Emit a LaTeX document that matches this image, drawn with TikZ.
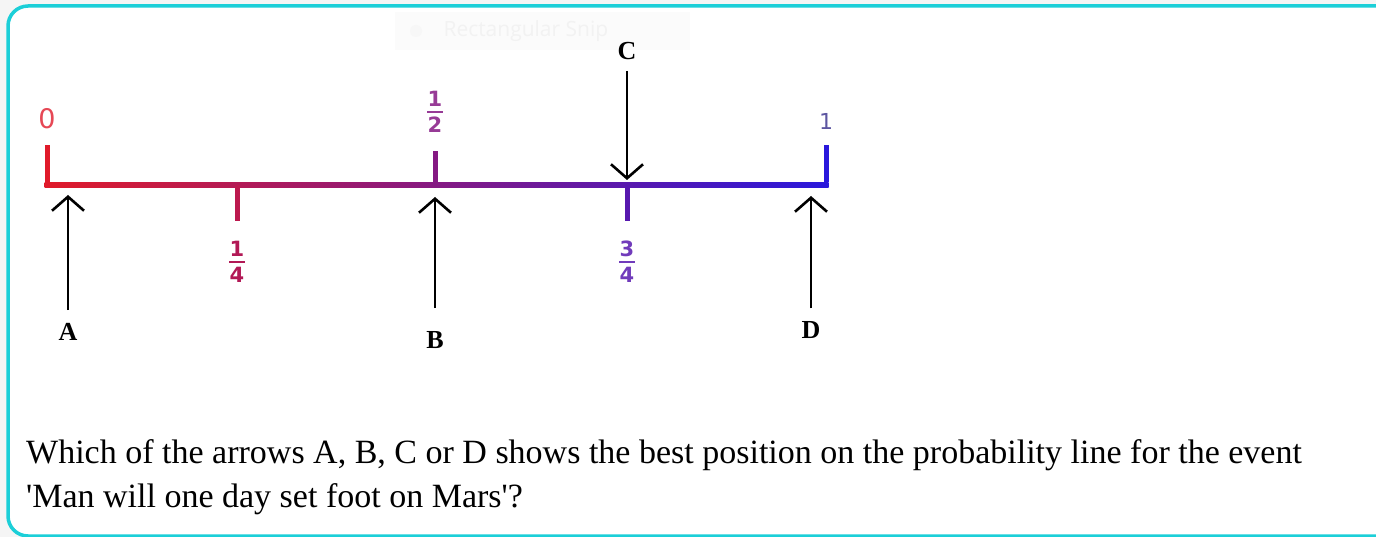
\documentclass[tikz,border=0pt]{standalone}
\usepackage{fontspec}
\setmainfont{Liberation Serif}
\setsansfont{DejaVu Sans}
\newfontfamily\qfont{Liberation Serif}
\usepackage{tikz}
\usetikzlibrary{positioning,arrows.meta}

\definecolor{frame}{HTML}{1CCFD8}
\definecolor{lred}{HTML}{E01A2A}
\definecolor{lblue}{HTML}{2A18DC}
\newcommand{\frc}[2]{\shortstack{#1\\[1pt]\rule{16pt}{2.2pt}\\[1pt]#2}}

\begin{document}
\begin{tikzpicture}[x=1pt,y=-1pt,
    tick/.style={line width=5pt},
    frac/.style={font=\sffamily\bfseries\fontsize{21}{21}\selectfont,inner sep=0pt},
    letter/.style={font=\bfseries\fontsize{26}{26}\selectfont,inner sep=1pt},
    arr/.style={-{Straight Barb[length=14pt,width=32pt,line width=2.6pt]},line width=2.6pt}
  ]
    \useasboundingbox (0,0) rectangle (1376,537);
    \fill[black!4] (0,0) rectangle (1376,537);
    \draw[frame,line width=3.5pt,rounded corners=20pt,fill=white] (8,6) rectangle (1420,536);

    % faint snipping tool label
    \fill[black!1.5] (395,12) rectangle (690,50);
    \fill[black!3] (416,31) circle (6pt);
    \node[anchor=west,text=black!5,font=\fontspec{Open Sans}\fontsize{21}{21}\selectfont] (snip) at (440,31) {Rectangular Snip};

    % the probability line
    \coordinate (p0) at (47,185);
    \coordinate (p1) at (237,185);
    \coordinate (p2) at (435,185);
    \coordinate (p3) at (627,185);
    \coordinate (p4) at (826,185);
    \shade[left color=lred,right color=lblue] (44.5,182.5) rectangle (828.5,187.5);
    \draw[tick,lred] ([yshift=2.5pt]p0) -- ++(0,-37);
    \draw[tick,lblue] ([yshift=2.5pt]p4) -- ++(0,-37);
    \draw[tick,lred!80!lblue] (p1) -- ++(0,36);
    \draw[tick,lred!50!lblue] (p2) -- ++(0,-34);
    \draw[tick,lred!25!lblue] (p3) -- ++(0,36);

    \node[text=lred!80!white,font=\sffamily\fontsize{27}{27}\selectfont] (zero) at (47,119) {0};
    \node[text=lblue!55!black!70!white,font=\sffamily\fontsize{22}{22}\selectfont] (one) at (826,121) {1};
    \node[frac,text=lred!75!lblue] (quarter) at (237,262) {\frc{1}{4}};
    \node[frac,text=lred!50!lblue!85!white] (half) at (435,112) {\frc{1}{2}};
    \node[frac,text=lred!25!lblue!85!white] (threeq) at (627,262) {\frc{3}{4}};

    % arrows
    \node[letter] (A) at (68,332) {A};
    \node[letter] (B) at (435,340) {B};
    \node[letter] (C) at (627,51) {C};
    \node[letter] (D) at (811,330) {D};
    \coordinate (a) at (68,195);
    \coordinate (b) at (435,197);
    \coordinate (c) at (627,180);
    \coordinate (d) at (811,196);
    \draw[arr] (A.north) ++(0,-12) -- (a);
    \draw[arr] (B.north) ++(0,-22) -- (b);
    \draw[arr] (C.south) ++(0,10) -- (c);
    \draw[arr] (D.north) ++(0,-12) -- (d);

    \node[anchor=west,align=left,inner sep=0pt,font=\qfont\fontsize{34}{44}\selectfont] (question) at (26,477)
      {Which of the arrows A, B, C or D shows the best position on the probability line for the event\\
       'Man will one day set foot on Mars'?};
  \end{tikzpicture}
\end{document}
